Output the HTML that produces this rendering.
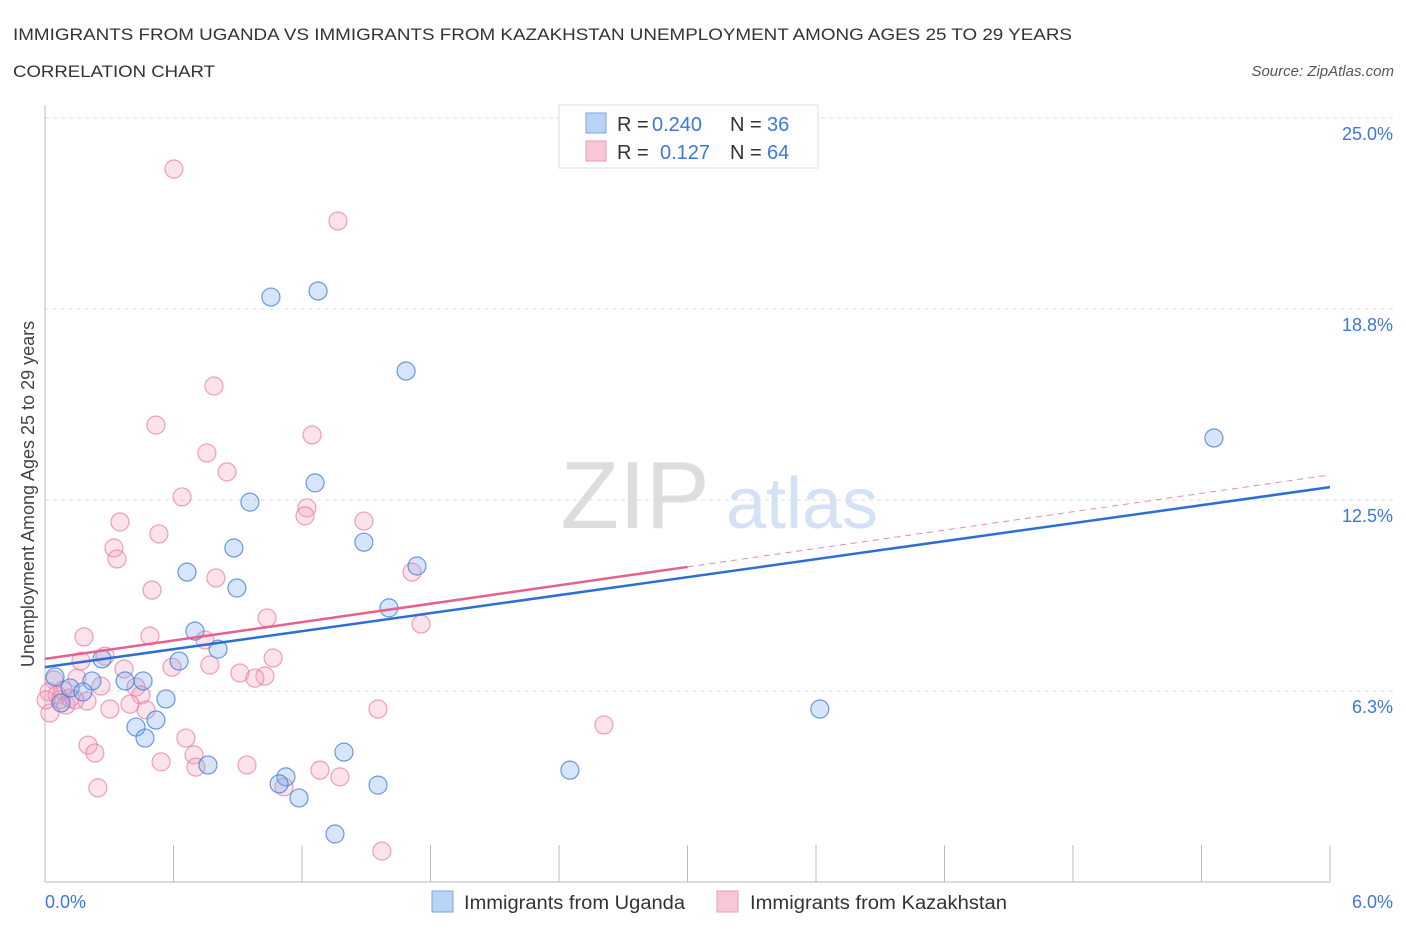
<!DOCTYPE html>
<html><head><meta charset="utf-8"><style>
body{margin:0;background:#fff;font-family:"Liberation Sans",sans-serif;}
svg text{font-family:"Liberation Sans",sans-serif;}
</style></head><body>
<svg id="chart" width="1406" height="930" xmlns="http://www.w3.org/2000/svg">
<text x="13" y="40" font-size="17" fill="#333" textLength="1059" lengthAdjust="spacingAndGlyphs">IMMIGRANTS FROM UGANDA VS IMMIGRANTS FROM KAZAKHSTAN UNEMPLOYMENT AMONG AGES 25 TO 29 YEARS</text>
<text x="13" y="77" font-size="17" fill="#333" textLength="202" lengthAdjust="spacingAndGlyphs">CORRELATION CHART</text>
<text x="1394" y="76" font-size="15" fill="#555" font-style="italic" text-anchor="end">Source: ZipAtlas.com</text>
<g>
<text x="635" y="528" font-size="96" fill="#ddd" text-anchor="middle" font-family="Liberation Serif, serif">ZIP</text>
<text x="802" y="528" font-size="72" fill="#d3e2f4" text-anchor="middle">atlas</text>
</g>
<g id="grid"></g>
<g id="axes"></g>
<g id="marks"></g>
<text transform="translate(34,494) rotate(-90)" font-size="18" fill="#444" text-anchor="middle">Unemployment Among Ages 25 to 29 years</text>
<g>
<rect x="559" y="105" width="259" height="63" fill="#fff" stroke="#ddd"/>
<rect x="586" y="113" width="20" height="20" fill="#b9d3f4" stroke="#7aa7e2"/>
<rect x="586" y="141" width="20" height="20" fill="#f9c6d6" stroke="#eb9ab5"/>
<text x="617" y="131" font-size="20" fill="#333">R =</text>
<text x="652" y="131" font-size="20" fill="#3b78d8">0.240</text>
<text x="730" y="131" font-size="20" fill="#333">N =</text>
<text x="767" y="131" font-size="20" fill="#3b78d8">36</text>
<text x="617" y="159" font-size="20" fill="#333">R =</text>
<text x="660" y="159" font-size="20" fill="#3b78d8">0.127</text>
<text x="730" y="159" font-size="20" fill="#333">N =</text>
<text x="767" y="159" font-size="20" fill="#3b78d8">64</text>
</g>
<g>
<rect x="432" y="891" width="21" height="21" fill="#b9d3f4" stroke="#7aa7e2"/>
<text x="464" y="909" font-size="19" fill="#333" textLength="221" lengthAdjust="spacingAndGlyphs">Immigrants from Uganda</text>
<rect x="717" y="891" width="21" height="21" fill="#f9c6d6" stroke="#eb9ab5"/>
<text x="750" y="909" font-size="19" fill="#333" textLength="257" lengthAdjust="spacingAndGlyphs">Immigrants from Kazakhstan</text>
</g>
</svg>
<script>
const xTicks=[0,0.6,1.2,1.8,2.4,3.0,3.6,4.2,4.8,5.4,6.0];
const yTicks=[6.25,12.5,18.75,25];
const yTickLabels=["6.3%","12.5%","18.8%","25.0%"];
const ugandaX=[1.055,1.275,1.686,5.458,1.261,0.957,1.489,0.882,0.663,1.737,0.896,1.606,0.700,0.808,0.626,0.266,0.047,0.219,0.374,0.458,0.117,0.177,0.075,0.565,0.518,0.425,0.467,1.396,0.761,2.451,1.125,1.093,1.555,1.186,1.354,3.618];
const ugandaY=[19.14,19.34,16.72,14.53,13.06,12.43,11.12,10.93,10.14,10.34,9.62,8.97,8.21,7.62,7.23,7.30,6.71,6.58,6.58,6.58,6.35,6.22,5.86,5.99,5.30,5.07,4.71,4.25,3.83,3.66,3.44,3.21,3.17,2.75,1.57,5.66];
const kazX=[0.602,1.368,0.789,0.518,1.247,0.756,0.850,0.640,1.223,1.214,1.489,0.350,0.532,0.322,0.336,1.714,0.798,0.500,1.037,1.756,0.182,0.490,0.747,0.168,0.280,0.593,0.770,1.065,0.369,0.910,1.027,0.980,0.149,0.261,0.425,0.448,0.042,0.019,0.070,0.117,0.196,0.303,0.397,0.472,1.555,2.610,0.023,0.201,0.233,0.658,0.696,0.542,0.705,0.943,1.284,1.377,1.116,0.247,1.573,0.084,0.056,0.098,0.005,0.140];
const kazY=[23.33,21.63,16.23,14.95,14.63,14.04,13.42,12.60,12.24,11.98,11.81,11.78,11.39,10.93,10.57,10.14,9.95,9.55,8.64,8.44,8.02,8.05,7.92,7.23,7.39,7.03,7.10,7.33,6.97,6.84,6.74,6.67,6.67,6.41,6.38,6.12,6.61,6.22,5.96,6.02,5.92,5.66,5.82,5.63,5.66,5.14,5.53,4.48,4.22,4.71,4.16,3.93,3.76,3.83,3.66,3.44,3.11,3.08,1.01,6.28,6.12,5.79,5.96,5.96];
const ugandaTrend=[7.03,12.92];
const kazTrend=[7.30,13.32];
const kazSolidEnd=3.0;

const NS="http://www.w3.org/2000/svg";
const X0=45,X1=1330,YB=882,YT=118;
function sx(v){return X0+(v/6)*(X1-X0);}
function sy(v){return YB-(v/25)*(YB-YT);}
function mk(tag,attrs,parent){const e=document.createElementNS(NS,tag);for(const k in attrs)e.setAttribute(k,attrs[k]);parent.appendChild(e);return e;}
const grid=document.getElementById('grid'),axes=document.getElementById('axes'),marks=document.getElementById('marks');
yTicks.forEach((t,i)=>{
 const l=mk('line',{x1:X0,x2:1394,y1:sy(t),y2:sy(t),stroke:'#ddd','stroke-dasharray':'4,4'},grid);
 
 
 const tx=mk('text',{x:1393,y:sy(t)+22,'font-size':18,fill:'#3b78d8','text-anchor':'end'},axes);
 tx.textContent=yTickLabels[i];
 
 
});
const ax=mk('line',{x1:X0,x2:X1,y1:YB,y2:YB,stroke:'#bbb'},axes);


const ay=mk('line',{x1:X0,x2:X0,y1:105,y2:YB,stroke:'#bbb'},axes);


xTicks.forEach(t=>{
 const l=mk('line',{x1:sx(t),x2:sx(t),y1:845,y2:YB,stroke:'#bbb'},axes);
 
 
});
const xl0=mk('text',{x:45,y:908,'font-size':18,fill:'#3b78d8'},axes);xl0.textContent=xTicks[0].toFixed(1)+'%';


const xl1=mk('text',{x:1393,y:908,'font-size':18,fill:'#3b78d8','text-anchor':'end'},axes);xl1.textContent=xTicks[10].toFixed(1)+'%';


kazX.forEach((v,i)=>{
 const c=mk('circle',{cx:sx(v),cy:sy(kazY[i]),r:9,fill:'rgba(244,160,188,0.3)',stroke:'rgba(232,130,165,0.75)','stroke-width':1.2},marks);
 
 
});
ugandaX.forEach((v,i)=>{
 const c=mk('circle',{cx:sx(v),cy:sy(ugandaY[i]),r:9,fill:'rgba(120,170,235,0.3)',stroke:'rgba(70,130,215,0.8)','stroke-width':1.2},marks);
 
 
});
const bt=mk('line',{x1:sx(0),y1:sy(ugandaTrend[0]),x2:sx(6),y2:sy(ugandaTrend[1]),stroke:'#2b6fd6','stroke-width':2.5},marks);


const kAt=x=>kazTrend[0]+(kazTrend[1]-kazTrend[0])*x/6;
const pt=mk('line',{x1:sx(0),y1:sy(kazTrend[0]),x2:sx(kazSolidEnd),y2:sy(kAt(kazSolidEnd)),stroke:'#e5608f','stroke-width':2.5},marks);


const pd=mk('line',{x1:sx(kazSolidEnd),y1:sy(kAt(kazSolidEnd)),x2:sx(6),y2:sy(kazTrend[1]),stroke:'#e88aab','stroke-width':1,'stroke-dasharray':'6,5'},marks);


</script>
</body></html>
